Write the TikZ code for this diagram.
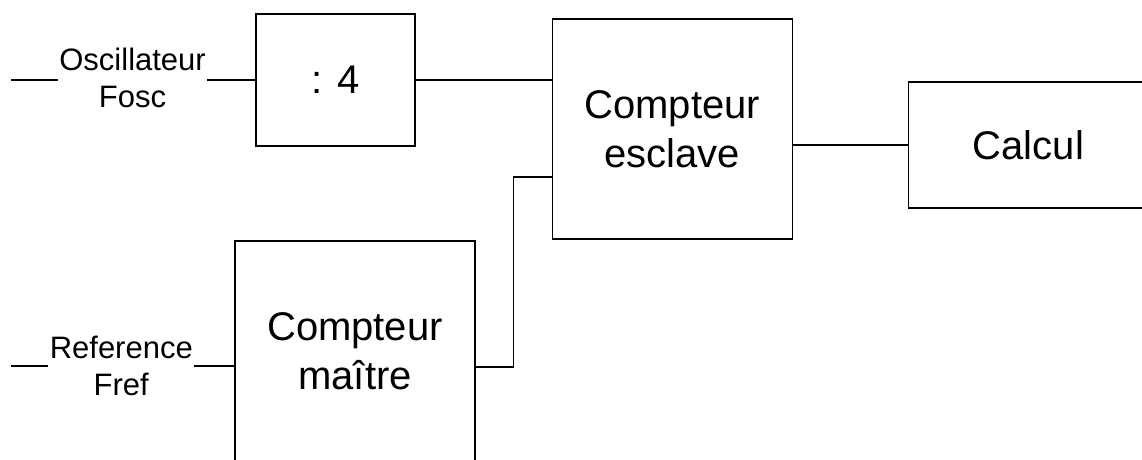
\documentclass[tikz,border=0pt]{standalone}
\usepackage{fontspec}
\setmainfont{Liberation Sans}
\usetikzlibrary{positioning}

\begin{document}
\begin{tikzpicture}[x=1pt, y=-1pt, line width=1.2pt,
    block/.style={draw, minimum width=240pt, minimum height=220pt, inner sep=0pt,
                  align=center, font=\fontsize{40}{49}\selectfont},
    sig/.style={inner sep=1pt, align=center, font=\fontsize{31}{37}\selectfont}]
  \useasboundingbox (0,0) rectangle (1142,460);
  \node[block, minimum width=159pt, minimum height=132pt] (div) at (335.5,80) {: 4};
  \node[block, right=136pt of div, yshift=-49pt] (esc) {Compteur\\esclave};
  \node[block, minimum height=126pt, right=115pt of esc, yshift=-16pt] (calc) {Calcul};
  \node[block] (mst) at (355,351) {Compteur\\ma\^{\i}tre};
  \node[sig, left=48pt of div, yshift=2pt] (osc) {Oscillateur\\Fosc};
  \node[sig, left=40pt of mst, yshift=-15pt] (ref) {Reference\\Fref};
  \coordinate (oscin) at (11,80);
  \coordinate (refin) at (11,366);
  \draw (oscin) -- (oscin -| osc.west);
  \draw (div.west -| osc.east) -- (div.west);
  \draw (refin) -- (ref.west);
  \draw (ref.east) -- (ref.east -| mst.west);
  \draw (div.east) -- (div.east -| esc.west);
  \draw (calc.west) -- (calc.west -| esc.east);
  \draw ([yshift=-16pt]mst.east) -- ++(38,0) |- ([yshift=-48pt]esc.west);
\end{tikzpicture}
\end{document}
